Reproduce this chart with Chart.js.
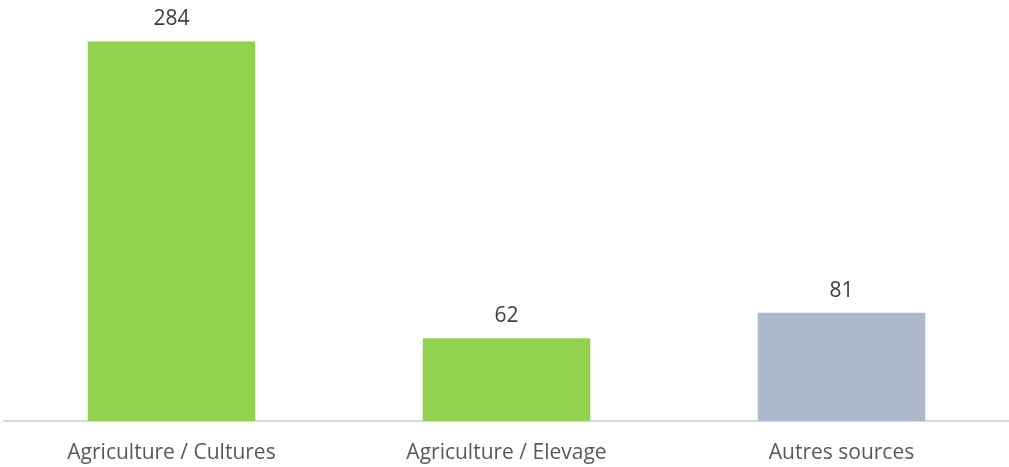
<!DOCTYPE html>
<html>
<head>
<meta charset="utf-8">
<script src="https://cdn.jsdelivr.net/npm/chart.js@4/dist/chart.umd.min.js"></script>
<style>
html,body{margin:0;padding:0;background:#fff;}
canvas{display:block;}
</style>
</head>
<body>
<canvas id="c" width="1009" height="467"></canvas>
<script>
const categories = ["Agriculture / Cultures", "Agriculture / Elevage", "Autres sources"];
const values = [284, 62, 81];
const barColors = ["#92D050", "#92D050", "#ADB9CA"];

const FONT = "'Open Sans', 'Liberation Sans', sans-serif";

const labelPlugin = {
  id: 'valueLabels',
  afterDatasetsDraw(chart) {
    const ctx = chart.ctx;
    const meta = chart.getDatasetMeta(0);
    ctx.save();
    ctx.font = "21px " + FONT;
    ctx.fillStyle = "#404040";
    ctx.textAlign = "center";
    ctx.textBaseline = "middle";
    meta.data.forEach((el, i) => {
      ctx.fillText(String(values[i]), el.x, el.y - 22);
    });
    ctx.restore();
  }
};

new Chart(document.getElementById('c'), {
  type: 'bar',
  data: {
    labels: categories,
    datasets: [{
      data: values,
      backgroundColor: barColors,
      borderWidth: 0,
      barPercentage: 0.5,
      categoryPercentage: 1.0
    }]
  },
  options: {
    responsive: false,
    animation: false,
    layout: { padding: { top: 20, left: 4, right: 0, bottom: 0 } },
    plugins: { legend: { display: false }, tooltip: { enabled: false } },
    scales: {
      y: {
        display: false,
        min: 0,
        max: 300
      },
      x: {
        grid: { display: false, drawTicks: false },
        border: { display: true, color: "#D9D9D9", width: 2 },
        ticks: {
          color: "#595959",
          font: { family: FONT, size: 21 },
          padding: 19
        },
        afterFit(scale) { scale.height = 46; }
      }
    }
  },
  plugins: [labelPlugin]
});
</script>
</body>
</html>
